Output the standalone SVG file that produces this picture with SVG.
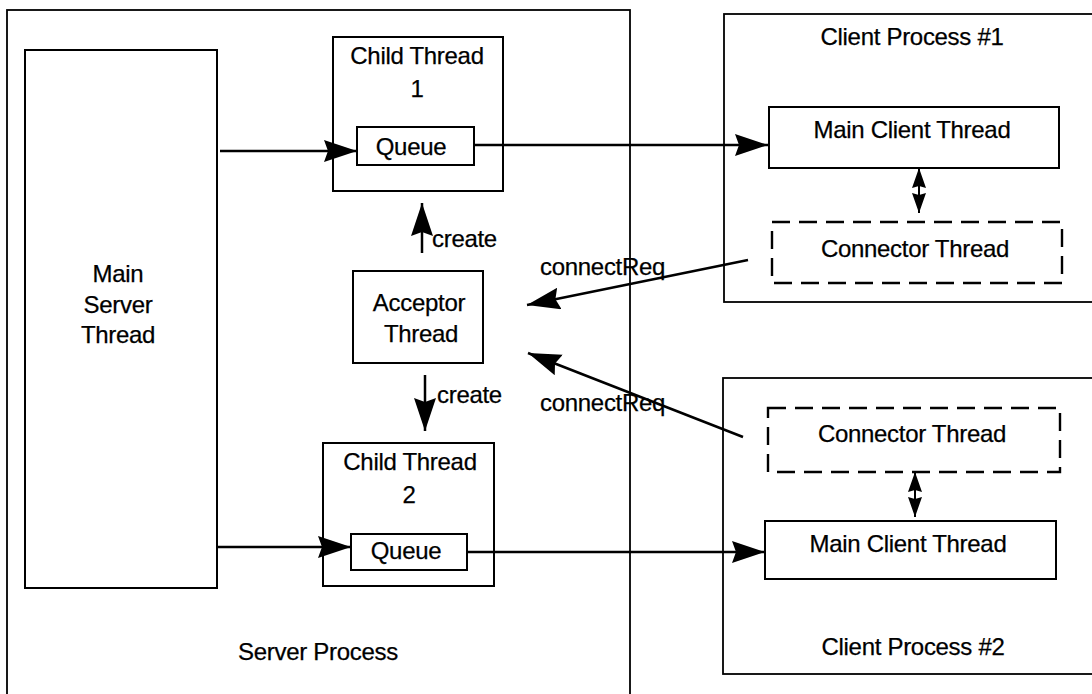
<svg xmlns="http://www.w3.org/2000/svg" width="1092" height="694" viewBox="0 0 1092 694">
  <style>
    .box { fill: #ffffff; stroke: #000000; stroke-width: 2; }
    .outer { fill: none; stroke: #000000; stroke-width: 1.8; }
    .dash { fill: none; stroke: #000000; stroke-width: 2.4; stroke-dasharray: 18 9; }
    .lbl { font-family: "Liberation Sans", Arial, Helvetica, sans-serif; font-size: 24px; letter-spacing: -0.3px; fill: #000000; stroke: #000000; stroke-width: 0.25; }
    .mid { text-anchor: middle; }
    .wire { fill: none; stroke: #000000; stroke-width: 2.5; }
    .wire-thin { fill: none; stroke: #000000; stroke-width: 2; }
  </style>
  <defs>
    <marker id="head" markerUnits="userSpaceOnUse" markerWidth="36" markerHeight="24" refX="33" refY="11" orient="auto">
      <path d="M0,0 L33,11 L0,22 L4,11 Z" fill="#000000"/>
    </marker>
    <marker id="small" markerUnits="userSpaceOnUse" markerWidth="22" markerHeight="16" refX="20" refY="7" orient="auto-start-reverse">
      <path d="M0,0 L20,7 L0,14 L2,7 Z" fill="#000000"/>
    </marker>
  </defs>

  <rect width="1092" height="694" fill="#ffffff"/>

  <!-- process containers -->
  <g id="server-process">
    <rect class="outer" x="7" y="10" width="623" height="700"/>
    <text class="lbl mid" x="318" y="660">Server Process</text>
  </g>
  <g id="client-process-1">
    <rect class="outer" x="724" y="14" width="400" height="288"/>
    <text class="lbl mid" x="912" y="45">Client Process #1</text>
  </g>
  <g id="client-process-2">
    <rect class="outer" x="723" y="378" width="400" height="296"/>
    <text class="lbl mid" x="913" y="655">Client Process #2</text>
  </g>

  <!-- server threads -->
  <g id="main-server-thread">
    <rect class="box" x="25" y="50" width="192" height="538"/>
    <text class="lbl mid" x="118" y="282">Main</text>
    <text class="lbl mid" x="118" y="313">Server</text>
    <text class="lbl mid" x="118" y="343">Thread</text>
  </g>
  <g id="child-thread-1">
    <rect class="box" x="333" y="37" width="170" height="154"/>
    <text class="lbl mid" x="417" y="64">Child Thread</text>
    <text class="lbl mid" x="417" y="97">1</text>
  </g>
  <g id="queue-1">
    <rect class="box" x="357" y="127" width="117" height="38"/>
    <text class="lbl mid" x="411" y="155">Queue</text>
  </g>
  <g id="acceptor-thread">
    <rect class="box" x="353" y="271" width="130" height="92"/>
    <text class="lbl mid" x="419" y="311">Acceptor</text>
    <text class="lbl mid" x="421" y="342">Thread</text>
  </g>
  <g id="child-thread-2">
    <rect class="box" x="323" y="443" width="171" height="143"/>
    <text class="lbl mid" x="410" y="470">Child Thread</text>
    <text class="lbl mid" x="409" y="503">2</text>
  </g>
  <g id="queue-2">
    <rect class="box" x="351" y="534" width="116" height="36"/>
    <text class="lbl mid" x="406" y="559">Queue</text>
  </g>

  <!-- client threads -->
  <g id="main-client-thread-1">
    <rect class="box" x="769" y="107" width="290" height="61"/>
    <text class="lbl mid" x="912" y="138">Main Client Thread</text>
  </g>
  <g id="connector-thread-1">
    <rect class="dash" x="772" y="222" width="290" height="61"/>
    <text class="lbl mid" x="915" y="257">Connector Thread</text>
  </g>
  <g id="connector-thread-2">
    <rect class="dash" x="768" y="408" width="292" height="64"/>
    <text class="lbl mid" x="912" y="442">Connector Thread</text>
  </g>
  <g id="main-client-thread-2">
    <rect class="box" x="765" y="521" width="291" height="58"/>
    <text class="lbl mid" x="908" y="552">Main Client Thread</text>
  </g>

  <!-- connectors -->
  <g id="connectors">
    <line class="wire" x1="220" y1="151" x2="357" y2="151" marker-end="url(#head)"/>
    <line class="wire" x1="474" y1="145" x2="768" y2="145" marker-end="url(#head)"/>
    <line class="wire" x1="217" y1="547" x2="351" y2="547" marker-end="url(#head)"/>
    <line class="wire" x1="467" y1="552" x2="765" y2="552" marker-end="url(#head)"/>

    <line class="wire" x1="422" y1="253" x2="422" y2="203" marker-end="url(#head)"/>
    <text class="lbl" x="432" y="247">create</text>
    <line class="wire" x1="425" y1="375" x2="425" y2="431" marker-end="url(#head)"/>
    <text class="lbl" x="437" y="403">create</text>

    <line class="wire" x1="748" y1="260" x2="527" y2="305" marker-end="url(#head)"/>
    <text class="lbl" x="540" y="275">connectReq</text>
    <line class="wire" x1="743" y1="437" x2="528" y2="353" marker-end="url(#head)"/>
    <text class="lbl" x="540" y="411">connectReq</text>

    <line class="wire-thin" x1="919" y1="168" x2="919" y2="213" marker-start="url(#small)" marker-end="url(#small)"/>
    <line class="wire-thin" x1="915" y1="472" x2="915" y2="517" marker-start="url(#small)" marker-end="url(#small)"/>
  </g>
</svg>
